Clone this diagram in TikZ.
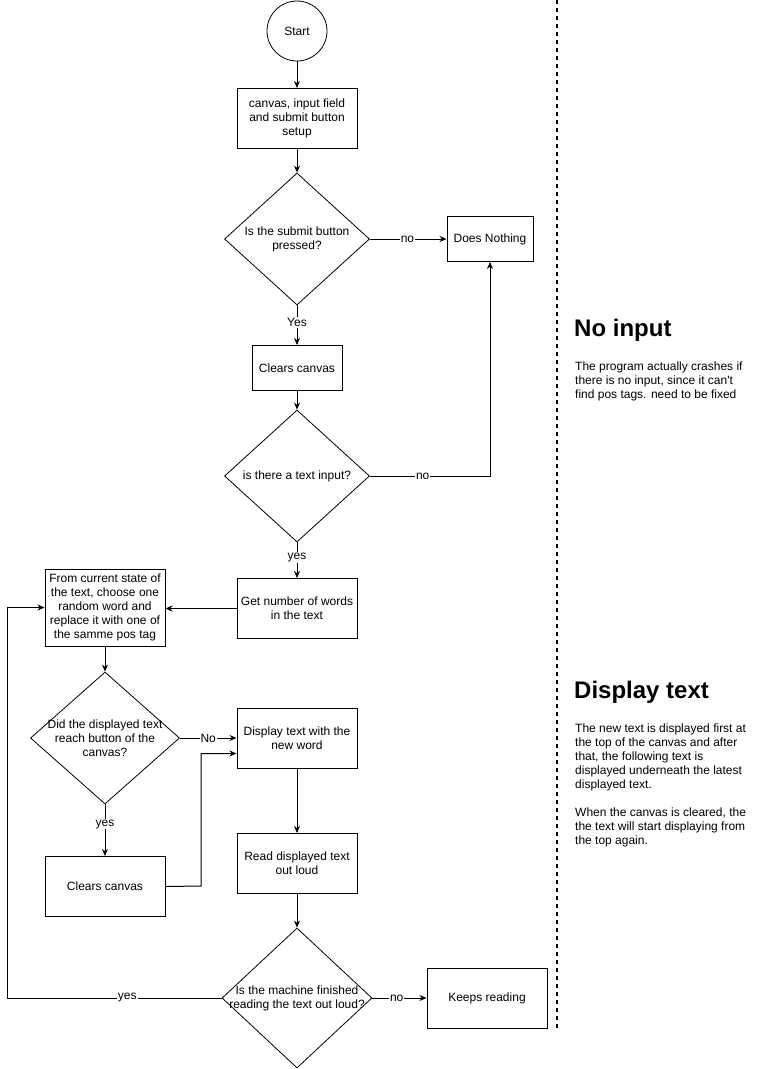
\documentclass[tikz,border=0pt]{standalone}
\usepackage{fontspec}
\setmainfont{Liberation Sans}
\newfontfamily\notefont{Liberation Sans}
\usetikzlibrary{shapes.geometric,arrows.meta,calc}
\begin{document}
\begin{tikzpicture}[x=1pt,y=-1pt,
  every node/.style={font=\fontsize{12}{14}\selectfont},
  box/.style={draw,line width=1pt,minimum width=#1,inner sep=0pt,align=center},
  box/.default=120pt,
  dmd/.style={draw,line width=0.8pt,diamond,inner sep=0pt,aspect=1.1},
  dtxt/.style={align=center,inner sep=0pt},
  arr/.style={line width=1pt,-{Stealth[length=7pt,width=6pt]}},
  lbl/.style={fill=white,inner sep=1pt},
  side/.style={anchor=north west,align=left,inner sep=0pt},
  head/.style={anchor=west,inner sep=0pt,font=\bfseries\fontsize{24}{28}\selectfont}]
\useasboundingbox (0,0) rectangle (760,1069);
% nodes
\node[draw,line width=0.8pt,circle,minimum size=60pt,inner sep=0pt] (start) at (297,31) {Start};
\node[box,minimum height=60pt] (setup) at (297,118.5) {canvas, input field\\and submit button\\setup};
\node[dmd,minimum width=145pt,minimum height=132pt] (d1) at (297,239) {};
\node[dtxt] (d1t) at (297,239.5) {Is the submit button\\pressed?};
\node[draw,line width=1pt,minimum width=86pt,minimum height=45pt,inner sep=0pt] (nothing) at (490,239) {Does Nothing};
\node[box=90pt,minimum height=45pt] (clr1) at (297,368) {Clears canvas};
\node[dmd,minimum width=145pt,minimum height=132pt] (d2) at (297,476) {};
\node[dtxt] (d2t) at (297,476.5) {is there a text input?};
\node[box,minimum height=60pt] (getn) at (297,608.5) {Get number of words\\in the text};
\node[box,minimum height=77pt] (from) at (105,607.5) {From current state of\\the text, choose one\\random word and\\replace it with one of\\the samme pos tag};
\node[dmd,minimum width=149pt,minimum height=132pt] (d3) at (105,738) {};
\node[dtxt] (d3t) at (105,738.5) {Did the displayed text\\reach button of the\\canvas?};
\node[box,minimum height=60pt] (disp) at (297,738.5) {Display text with the\\new word};
\node[box,minimum height=60pt] (clr2) at (105,886.5) {Clears canvas};
\node[box,minimum height=60pt] (read) at (297,863.5) {Read displayed text\\out loud};
\node[dmd,minimum width=150pt,minimum height=140pt] (d4) at (297,998) {};
\node[dtxt] (d4t) at (297,998.5) {Is the machine finished\\reading the text out loud?};
\node[box,minimum height=60pt] (keep) at (487,998.5) {Keeps reading};
\coordinate (loop) at (7,998);
\coordinate (jog) at (201,886);
\coordinate (dispin) at ($(disp.west)+(0,15)$);
% connectors
\draw[arr] (start) -- (setup);
\draw[arr] (setup) -- (d1.north);
\draw[arr] (d1.east) -- node[lbl,pos=0.49]{no} (nothing.west);
\draw[arr] (d1.south) -- node[lbl,pos=0.43]{Yes} (clr1.north);
\draw[arr] (clr1) -- (d2.north);
\draw[arr] (d2.east) -| node[lbl,pos=0.22]{no} (nothing.south);
\draw[arr] (d2.south) -- node[lbl,pos=0.42]{yes} (getn.north);
\draw[arr] (getn.west) -- (getn.west -| from.east);
\draw[arr] (from) -- (d3.north);
\draw[arr] (d3.east) -- node[lbl,pos=0.5]{No} (d3.east -| disp.west);
\draw[arr] (d3.south) -- node[lbl,pos=0.38]{yes} (clr2.north);
\draw[arr] (clr2.east) -- (jog) |- (dispin);
\draw[arr] (disp) -- (read);
\draw[arr] (read) -- (d4.north);
\draw[arr] (d4.east) -- node[lbl,pos=0.45]{no} (d4.east -| keep.west);
\draw[arr] (d4.west) -- node[lbl,pos=0.44]{yes} (loop) |- (from.west);
% divider
\coordinate (divtop) at (557,0);
\coordinate (divbot) at (557,1028);
\draw[line width=2pt,dash pattern=on 4pt off 4pt] (divtop) -- (divbot);
% side notes
\node[head] (h1) at (574,330) {No input};
\node[side,font=\notefont\fontsize{12}{14}\selectfont] (t1) at (575,362) {The program actually crashes if\\there is no input, since it can't\\find pos tags. need to be fixed};
\node[head] (h2) at (574,692) {Display text};
\node[side] (t2) at (575,724) {The new text is displayed first at\\the top of the canvas and after\\that, the following text is\\displayed underneath the latest\\displayed text.\\[14pt]When the canvas is cleared, the\\the text will start displaying from\\the top again.};
\end{tikzpicture}
\end{document}
